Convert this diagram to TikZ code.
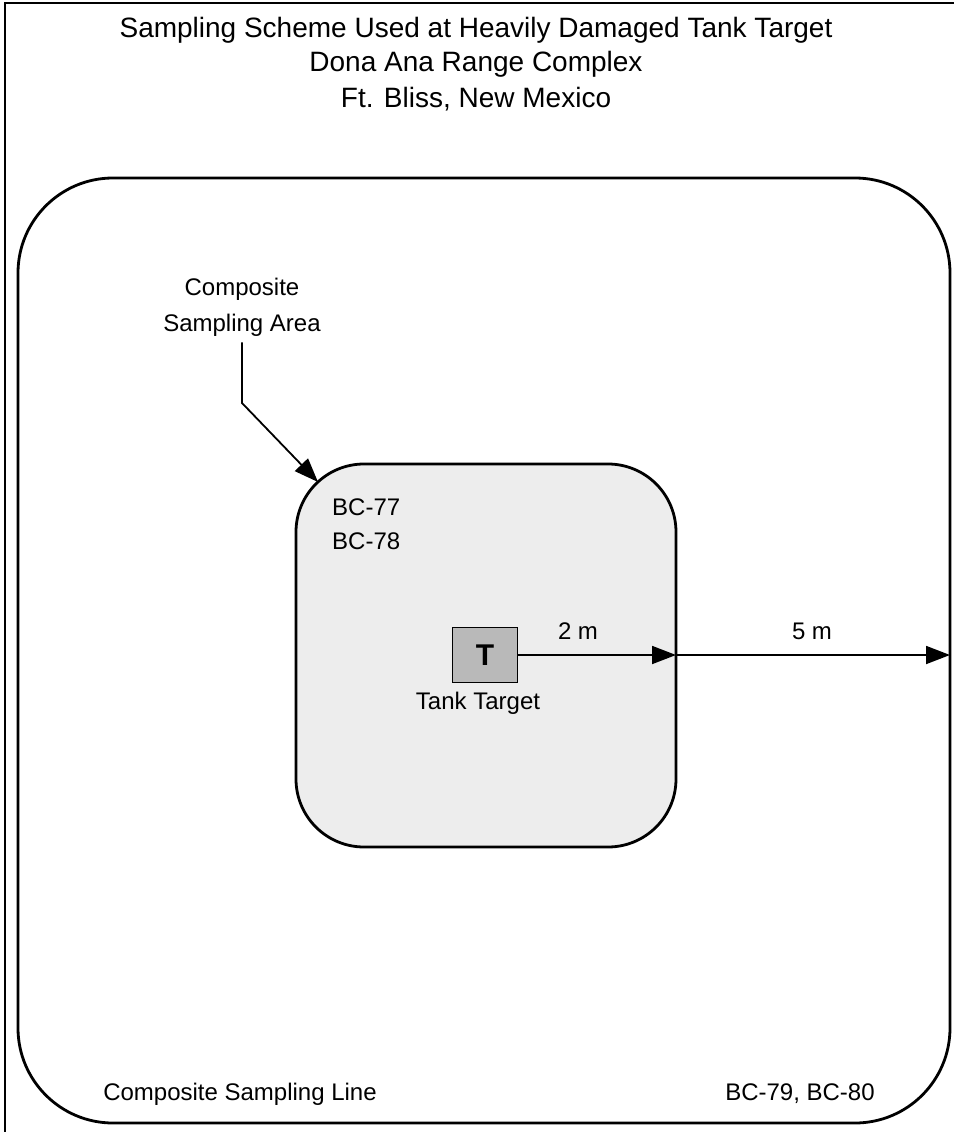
\documentclass[tikz,border=0pt]{standalone}
\usepackage{fontspec}
\setmainfont{Liberation Sans}
\usetikzlibrary{arrows.meta}
\begin{document}
\begin{tikzpicture}[x=1pt,y=-1pt,
  lbl/.style={font=\fontsize{24}{28}\selectfont, inner sep=0pt},
  ttl/.style={font=\fontsize{28}{32}\selectfont, inner sep=0pt},
  area/.style={draw=black, line width=2.8pt},
  conn/.style={draw=black, line width=1.8pt, -{Triangle[length=24pt,width=18pt]}}]
\useasboundingbox (0,0) rectangle (954,1132);
% outer frame
\draw[line width=1.2pt] (5,1132) -- (5,3) -- (954,3);
% titles
\node[ttl] (t1) at (476,30) {Sampling Scheme Used at Heavily Damaged Tank Target};
\node[ttl] (t2) at (476,64) {Dona Ana Range Complex};
\node[ttl] (t3) at (476,99) {Ft. Bliss, New Mexico};
% big rounded area
\draw[area, rounded corners=95pt] (18,178) rectangle (950,1123);
% inner composite area
\draw[area, fill=gray!14, rounded corners=68pt] (296,464) rectangle (676,847);
\coordinate (innerE) at (676,655);
\coordinate (outerE) at (950,655);
\coordinate (innerC) at (318,482);
% tank target
\node[draw=black, line width=1.8pt, fill=gray!55, minimum width=65pt, minimum height=55pt, inner sep=0pt, font=\fontsize{30}{32}\selectfont\bfseries] (tank) at (485,655) {T};
\node[lbl] (tanklbl) at (478,703) {Tank Target};
% labels
\node[lbl, anchor=west] (bc77) at (332,507) {BC-77};
\node[lbl, anchor=west] (bc78) at (332,541) {BC-78};
\node[lbl] (csa1) at (242,289) {Composite};
\node[lbl] (csa2) at (242,325) {Sampling Area};
\node[lbl] (csl) at (240,1094) {Composite Sampling Line};
\node[lbl] (bc79) at (800,1094) {BC-79, BC-80};
\node[lbl] (d2) at (578,631) {2 m};
\node[lbl] (d5) at (812,631) {5 m};
% connectors
\draw[conn] (tank.east) -- (innerE);
\draw[conn] (innerE) -- (outerE);
\draw[conn] (csa2.south) ++(0,6) -- (242,403) -- (innerC);
\end{tikzpicture}
\end{document}
